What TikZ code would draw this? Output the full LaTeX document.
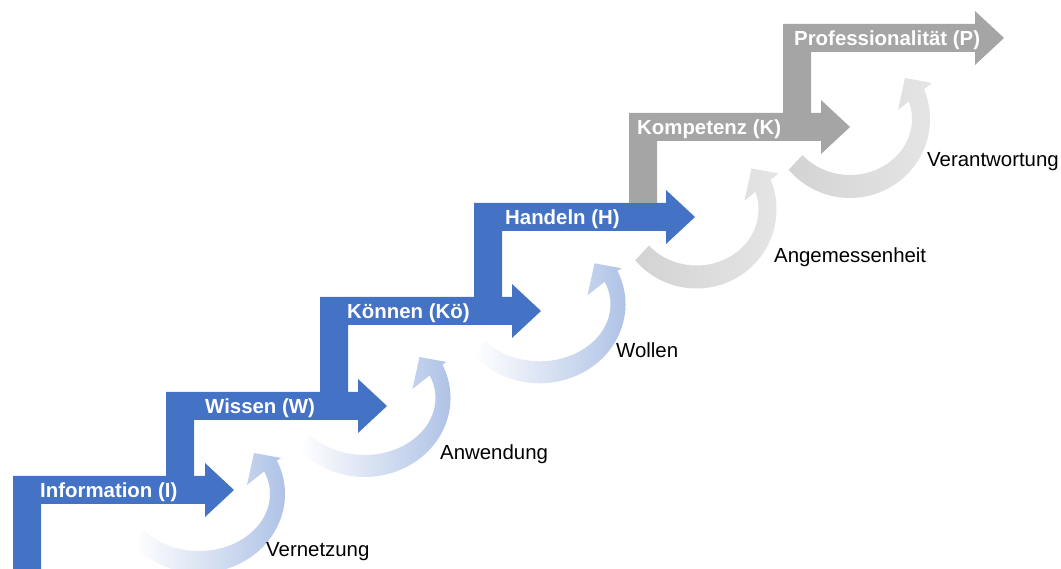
\documentclass[tikz,border=0pt]{standalone}
\usepackage{fontspec}
\setmainfont{Liberation Sans}
\definecolor{stepblue}{HTML}{4472C4}
\definecolor{stepgray}{HTML}{A5A5A5}
\definecolor{arcblue}{HTML}{A9BEE4}
\definecolor{arcgrayA}{HTML}{D3D3D3}
\definecolor{arcgrayB}{HTML}{E6E6E6}
\begin{document}
\begin{tikzpicture}[x=1pt,y=1pt,
    steplabel/.style={text=white,font=\bfseries\fontsize{20.4}{24}\selectfont,anchor=base west,inner sep=0pt},
    arclabel/.style={text=black,font=\fontsize{20.4}{24}\selectfont,anchor=base west,inner sep=0pt}]
    \useasboundingbox (0,0) rectangle (1061,569);

    % curved arrows between the steps (blue ones are a bit wider)
    \foreach \cx/\cy/\lc/\rc/\ix/\iy/\ie/\ox/\oy/\oe in {
        199/75/white/arcblue/71/57/383.4/86/79/385.1,
        364.5/171/white/arcblue/71/57/383.4/86/79/385.1,
        539.5/264.7/white/arcblue/71/57/383.4/86/79/385.1,
        696.5/359.5/arcgrayA/arcgrayB/62/56/378.3/80/79/382.1,
        850/450/arcgrayA/arcgrayB/62/56/378.3/80/79/382.1}
    \shade[left color=\lc,right color=\rc,shift={(\cx,\cy)}]
    (220:\ix\space and \iy) arc[start angle=220,end angle=\ie,x radius=\ix,y radius=\iy]
    -- (10.6:48.8) -- (36.7:68.6) -- (23.7:89.6) -- (\oe:\ox\space and \oy)
    arc[start angle=\oe,end angle=220,x radius=\ox,y radius=\oy]
    -- cycle;

    % the steps
    \foreach \l/\t/\b/\col in {13/93/0/stepblue,166/177/93/stepblue,320/272/177/stepblue,474/366/272/stepblue,629/456/366/stepgray,783/545/456/stepgray}
    \fill[\col] (\l,\b) -- (\l,\t) -- (\l+192,\t) -- (\l+192,\t+13)
    -- (\l+221,\t-14) -- (\l+192,\t-41) -- (\l+192,\t-28)
    -- (\l+28,\t-28) -- (\l+28,\b) -- cycle;

    \node[steplabel] (info) at (40,71) {Information (I)};
    \node[steplabel] (wissen) at (205,155) {Wissen (W)};
    \node[steplabel] (koennen) at (347,250) {Können (Kö)};
    \node[steplabel] (handeln) at (505,344) {Handeln (H)};
    \node[steplabel] (kompetenz) at (637,434) {Kompetenz (K)};
    \node[steplabel] (prof) at (794,523) {Professionalität (P)};

    \node[arclabel] (vernetzung) at (266,12) {Vernetzung};
    \node[arclabel] (anwendung) at (440,109) {Anwendung};
    \node[arclabel] (wollen) at (616,211) {Wollen};
    \node[arclabel] (angemessen) at (774,306) {Angemessenheit};
    \node[arclabel] (verantwortung) at (927,402) {Verantwortung};
\end{tikzpicture}
\end{document}
